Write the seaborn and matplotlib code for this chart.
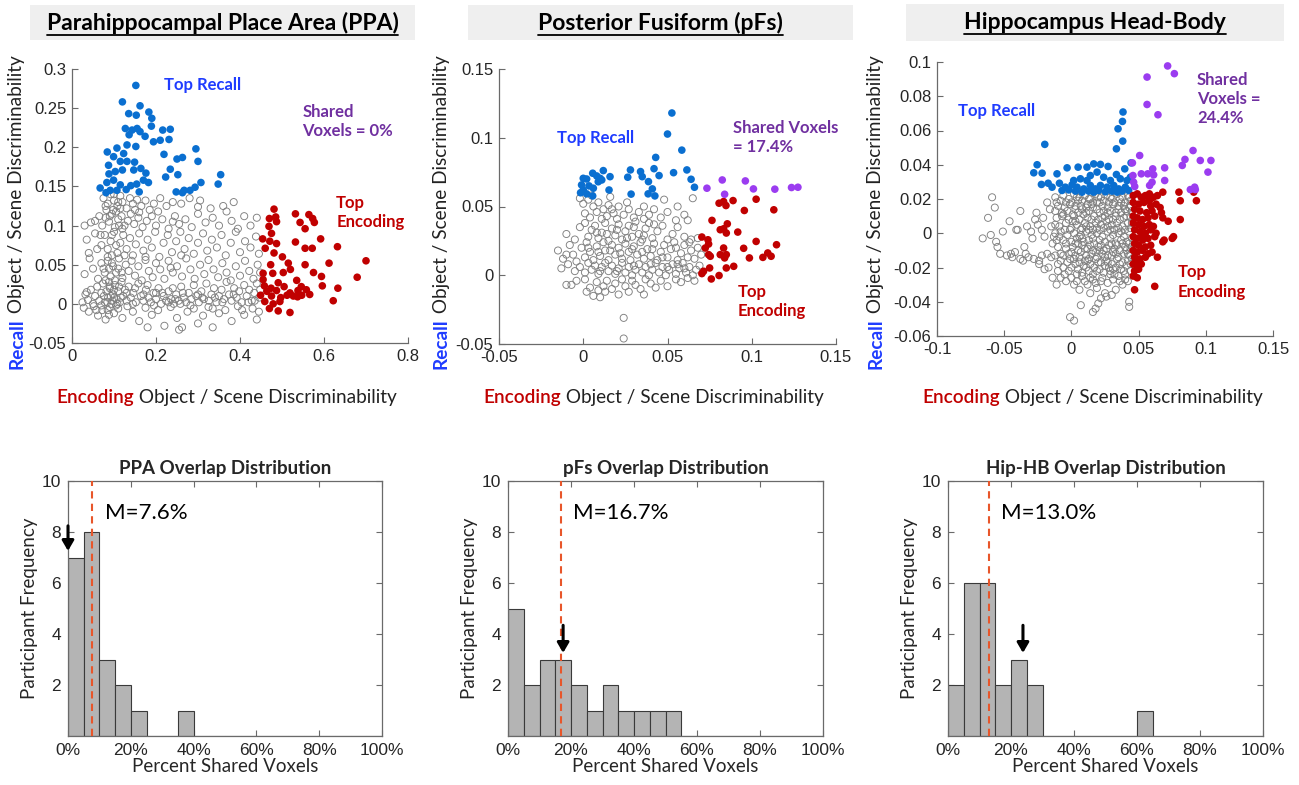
import numpy as np
import pandas as pd
import matplotlib
matplotlib.use("Agg")
import matplotlib.pyplot as plt
import seaborn as sns
from matplotlib.patches import Rectangle, FancyArrowPatch
from matplotlib.lines import Line2D

# ------------------------------------------------------------------ DATA
# Gray voxel points are given in units of 0.001 (milli-units)
MILLI = 0.001

PPA_GRAY = [
    (75,135),(85,128),(92,140),(100,132),(108,125),(115,138),(120,130),(130,122),(138,135),(145,128),
    (155,133),(165,125),(175,132),(185,120),(195,128),(210,135),(225,125),(240,130),(260,128),(280,135),
    (300,124),(305,132),(330,122),(115,122),(98,120),(82,120),(150,120),(205,118),(360,125),(385,130),
    (30,100),(45,104),(55,106),(65,112),(72,100),(80,110),(88,105),(95,115),(102,98),(110,108),
    (118,112),(125,100),(133,106),(140,115),(148,102),(158,110),(168,98),(178,106),(190,112),(200,100),
    (215,108),(230,96),(245,112),(255,102),(270,108),(285,98),(300,115),(318,104),(335,110),(350,100),
    (368,118),(380,106),(395,96),(410,112),(425,100),(440,110),(160,117),(240,105),(120,96),
    (35,82),(40,65),(55,90),(70,75),(78,88),(85,70),(92,80),(100,92),(108,65),(115,78),
    (122,88),(130,70),(138,84),(145,62),(152,76),(160,90),(170,68),(180,82),(190,72),(198,92),
    (208,60),(218,78),(228,88),(238,66),(248,80),(258,92),(268,70),(278,84),(290,64),(300,78),
    (312,90),(322,68),(333,82),(345,72),(356,88),(366,62),(378,78),(390,92),(400,66),(412,80),
    (425,72),(438,86),(445,64),(260,62),(175,60),(95,62),(60,70),
    (30,38),(42,58),(50,45),(62,32),(70,52),(78,40),(85,55),(92,35),(98,48),(105,40),
    (112,58),(120,33),(128,50),(135,42),(142,55),(150,36),(158,48),(166,30),(175,56),(183,42),
    (192,34),(200,52),(210,44),(220,32),(230,55),(240,40),(250,48),(262,35),(272,58),(282,44),
    (292,32),(305,50),(315,38),(325,56),(337,44),(348,34),(358,52),(368,40),(378,30),(390,48),
    (400,36),(412,55),(422,42),(432,32),(442,50),(448,40),(88,45),(102,30),(235,46),
    (25,2),(32,12),(38,5),(45,18),(50,0),(55,10),(60,22),(65,4),(70,14),(74,26),
    (78,2),(82,16),(86,8),(90,20),(94,0),(98,12),(102,24),(106,6),(110,16),(114,2),
    (118,28),(122,10),(126,18),(130,4),(135,22),(140,8),(146,14),(152,2),(158,26),(164,10),
    (170,4),(176,18),(182,8),(188,2),(194,14),(200,6),(206,20),(212,0),(218,10),(224,4),
    (230,16),(236,6),(242,0),(248,12),(254,4),(260,22),(266,8),(272,2),(278,14),(284,6),
    (290,24),(296,10),(302,2),(308,16),(314,6),(320,26),(326,4),(332,12),(338,20),(344,2),
    (350,10),(356,18),(362,6),(368,28),(374,12),(380,4),(386,20),(392,8),(398,16),(404,2),
    (410,24),(416,10),(422,18),(428,4),(434,14),(440,26),(446,8),(96,4),(84,2),(76,10),
    (108,0),(116,8),(100,18),(92,10),(88,28),(112,22),(230,2),(246,6),(264,14),(300,12),
    (340,8),(420,2),(200,14),(180,24),(150,20),(130,14),
    (28,-5),(40,-10),(52,-3),(62,-15),(72,-8),(80,-20),(90,-4),(100,-12),(110,-6),(120,-18),
    (132,-3),(145,-10),(160,-22),(175,-5),(190,-14),(205,-8),(220,-28),(235,-4),(250,-18),(262,-30),
    (275,-10),(290,-6),(300,-25),(312,-15),(325,-4),(335,-30),(350,-12),(365,-8),(380,-22),(395,-3),
    (410,-14),(430,-6),(445,-10),(88,-14),(70,-2),(180,-30),(255,-33),(440,-20),
    (80,125),(90,112),(105,118),(112,100),(95,88),(105,75),(85,60),(95,52),(110,45),(80,30),
    (90,22),(100,8),(85,-8),(105,-2),(118,40),(125,62),(68,88),(75,45),(100,140),(110,130),
    (35,15),(58,-8),(145,0),(170,12),(195,-2),(215,14),(240,20),(258,0),(282,-2),(310,8),
    (335,-6),(358,2),(385,12),(405,-8),(435,4),(448,18),
]

PPA_BLUE = [
    (0.152,0.279),(0.120,0.258),(0.162,0.253),(0.183,0.245),(0.135,0.243),(0.153,0.241),(0.190,0.237),
    (0.127,0.224),(0.143,0.222),(0.155,0.224),(0.162,0.220),(0.189,0.227),(0.136,0.216),(0.174,0.214),
    (0.216,0.222),(0.234,0.223),(0.194,0.207),(0.210,0.209),(0.231,0.210),(0.131,0.203),(0.152,0.201),
    (0.107,0.199),(0.219,0.191),(0.295,0.198),(0.084,0.194),(0.099,0.188),(0.123,0.192),(0.115,0.182),
    (0.131,0.182),(0.149,0.181),(0.250,0.185),(0.263,0.187),(0.300,0.182),(0.087,0.177),(0.103,0.169),
    (0.120,0.171),(0.147,0.171),(0.164,0.173),(0.234,0.172),(0.176,0.167),(0.223,0.162),(0.252,0.165),
    (0.354,0.165),(0.088,0.166),(0.067,0.148),(0.083,0.155),(0.099,0.158),(0.115,0.152),(0.091,0.145),
    (0.129,0.146),(0.154,0.153),(0.170,0.158),(0.182,0.155),(0.160,0.143),(0.307,0.155),(0.348,0.153),
    (0.248,0.143),(0.267,0.145),(0.281,0.145),(0.293,0.149),(0.263,0.142),(0.081,0.142),(0.107,0.145),
    (0.140,0.151),
]

PPA_RED = [
    (0.481,0.121),(0.532,0.115),(0.470,0.109),(0.485,0.111),(0.564,0.114),(0.573,0.109),(0.543,0.104),
    (0.577,0.104),(0.555,0.096),(0.469,0.099),(0.487,0.105),(0.475,0.090),(0.454,0.083),(0.471,0.080),
    (0.487,0.077),(0.592,0.083),(0.532,0.079),(0.460,0.071),(0.481,0.065),(0.501,0.060),(0.555,0.071),
    (0.572,0.071),(0.632,0.073),(0.700,0.055),(0.612,0.052),(0.473,0.050),(0.515,0.052),(0.555,0.050),
    (0.455,0.039),(0.478,0.039),(0.503,0.040),(0.520,0.044),(0.575,0.040),(0.679,0.034),(0.455,0.031),
    (0.491,0.027),(0.535,0.030),(0.594,0.035),(0.458,0.023),(0.474,0.020),(0.505,0.022),(0.546,0.022),
    (0.596,0.023),(0.633,0.020),(0.464,0.016),(0.487,0.017),(0.519,0.014),(0.538,0.017),(0.558,0.018),
    (0.449,0.011),(0.475,0.010),(0.497,0.008),(0.512,0.011),(0.527,0.010),(0.547,0.011),(0.566,0.012),
    (0.495,0.003),(0.459,0.003),(0.622,0.004),(0.479,0.000),(0.470,-0.006),(0.491,-0.009),(0.519,-0.011),
    (0.537,0.009),
]
PPA_PURPLE = []

PFS_GRAY = [
    (-2,56),(0,52),(3,55),(6,50),(9,53),(12,48),(15,51),(18,45),(21,50),(24,44),(27,48),(30,42),
    (33,46),(36,50),(39,44),(42,48),(46,42),(50,46),(55,40),(60,44),(65,56),(62,40),(1,45),(4,42),
    (8,46),(11,41),(14,43),(17,48),(20,41),(26,53),(36,41),(48,55),(56,50),(5,58),(16,57),
    (-10,30),(-5,26),(-2,35),(1,38),(3,28),(5,33),(7,36),(9,27),(11,31),(13,38),(15,25),(17,34),
    (19,29),(21,37),(23,26),(25,32),(27,36),(29,28),(31,39),(33,30),(35,26),(37,34),(39,38),(41,27),
    (44,32),(47,36),(50,26),(53,30),(56,35),(60,28),(64,26),(68,27),(8,31),(14,30),(20,33),(26,27),
    (30,35),(36,29),(42,37),
    (-15,18),(-12,12),(-8,22),(-6,15),(-4,10),(-1,20),(1,13),(2,24),(4,17),(6,11),(8,21),(10,14),
    (12,24),(13,18),(15,11),(17,22),(19,15),(21,20),(23,12),(25,23),(27,17),(28,11),(30,21),(32,15),
    (34,24),(36,12),(38,19),(40,14),(42,23),(44,11),(46,17),(48,22),(50,13),(52,19),(54,24),(56,11),
    (58,16),(60,22),(62,13),(64,18),(66,12),(68,20),(70,15),(3,20),(9,17),(16,18),(22,16),(29,19),
    (35,17),(41,19),(47,13),(55,20),(63,24),(-10,15),
    (-13,5),(-9,8),(-5,3),(-2,6),(1,2),(3,9),(5,4),(7,7),(9,1),(11,6),(13,9),(15,3),(17,7),(19,1),
    (21,5),(23,9),(25,2),(27,6),(29,0),(31,4),(33,8),(35,2),(37,6),(39,0),(41,4),(43,9),(45,2),(47,6),
    (49,0),(51,4),(53,8),(55,1),(57,5),(59,9),(61,2),(63,6),(65,0),(67,4),(69,7),(10,3),(20,3),(30,7),
    (40,8),(50,6),(60,5),(56,8),
    (-10,-7),(-7,-7),(-4,-4),(1,-3),(2,-12),(4,-9),(6,-15),(8,-5),(9,-11),(10,-16),(12,-8),(14,-4),
    (17,-10),(19,-6),(21,-14),(23,-3),(25,-8),(27,-12),(29,-4),(31,-7),(34,-10),(37,-3),(40,-6),(43,-9),
    (46,-4),(50,-8),(55,-3),(58,-5),(62,-2),(66,-4),(24,-31),(24,-46),(13,-12),(36,-14),
]

PFS_BLUE = [
    (0.0526,0.118),(0.050,0.1027),(0.0585,0.091),(0.043,0.0857),(0.042,0.0775),(0.028,0.0766),
    (0.034,0.0754),(0.045,0.0725),(0.0536,0.0746),(0.0615,0.0766),(0.064,0.0698),(0.066,0.064),
    (0.0387,0.0681),(0.035,0.0717),(0.0264,0.0713),(0.0284,0.059),(0.0385,0.0592),(0.041,0.0628),
    (0.0425,0.0577),(0.0119,0.0761),(0.0159,0.0717),(0.0153,0.062),(0.0056,0.0742),(0.010,0.0705),
    (0.008,0.0722),(0.002,0.070),(0.000,0.0705),(0.0034,0.065),(0.006,0.0633),(-0.001,0.0657),
    (0.000,0.062),(0.002,0.0592),(0.0056,0.0577),(-0.0016,0.060),(0.0089,0.068),(0.011,0.0693),
]
PFS_PURPLE = [
    (0.0734,0.0633),(0.0825,0.0693),(0.0839,0.0589),(0.0962,0.0686),(0.101,0.0628),
    (0.1137,0.0626),(0.1236,0.0638),(0.1274,0.064),
]
PFS_RED = [
    (0.0806,0.0524),(0.0833,0.0536),(0.0847,0.0507),(0.0889,0.0543),(0.0956,0.0471),(0.1026,0.0553),
    (0.1131,0.0476),(0.0764,0.0399),(0.0813,0.0331),(0.0833,0.0338),(0.0855,0.0374),(0.0849,0.0307),
    (0.0917,0.0314),(0.0704,0.0278),(0.0740,0.0258),(0.0744,0.0227),(0.0724,0.0198),(0.1026,0.0246),
    (0.1147,0.0222),(0.0833,0.0198),(0.0952,0.0196),(0.0813,0.0150),(0.0744,0.0150),(0.0754,0.0138),
    (0.0839,0.0126),(0.0849,0.0150),(0.0986,0.0126),(0.1066,0.0130),(0.1095,0.0162),(0.1115,0.0138),
    (0.0750,0.0053),(0.0849,0.0053),(0.0893,0.0065),(0.0714,0.0029),(0.0704,0.0012),(0.0806,-0.0002),
    (0.0760,-0.0027),
]

HIP_GRAY = [
    (-12,21),(-6,22),(-2,20),(2,23),(6,21),(10,22),(14,20),(18,23),(22,21),(26,22),(30,20),(34,23),
    (38,21),(42,22),(44,19),(0,18),(8,19),(16,18),(24,19),(32,18),(40,18),
    (-10,16),(-5,15),(-1,17),(3,14),(7,16),(11,15),(15,17),(19,14),(23,16),(27,15),(31,17),(35,14),
    (39,16),(43,15),(-3,13),(5,12),(13,13),(21,12),(29,13),(37,12),(45,13),(1,11),
    (-11,9),(-7,10),(-2,8),(2,10),(6,8),(9,11),(12,9),(17,10),(20,8),(25,10),(28,8),(33,10),(36,8),
    (41,10),(44,9),(-4,6),(4,5),(10,6),(14,4),(18,6),(22,5),(26,7),(30,5),(34,6),(38,4),(42,6),(0,3),
    (8,3),(16,2),(24,3),(32,2),(40,2),
    (-12,0),(-8,1),(-3,-1),(2,0),(6,-2),(11,1),(15,-1),(19,0),(23,-2),(27,1),(31,-1),(35,0),(39,-2),
    (43,1),(-6,-4),(0,-5),(4,-3),(9,-5),(13,-4),(17,-6),(21,-4),(25,-5),(29,-3),(33,-6),(37,-4),
    (41,-5),(45,-3),
    (-10,-8),(-4,-9),(1,-8),(5,-10),(8,-7),(12,-9),(16,-10),(20,-8),(24,-10),(28,-7),(32,-9),(36,-10),
    (40,-8),(44,-9),(-2,-12),(3,-13),(7,-11),(11,-13),(15,-12),(19,-14),(23,-12),(27,-13),(31,-11),
    (35,-14),(39,-12),(43,-13),
    (-8,-16),(-3,-17),(2,-15),(6,-17),(10,-16),(14,-18),(18,-15),(22,-17),(26,-16),(30,-18),(34,-15),
    (38,-17),(42,-16),(0,-20),(5,-21),(9,-19),(13,-22),(17,-20),(21,-21),(25,-19),(29,-22),(33,-20),
    (37,-21),(41,-19),(44,-22),
    (-5,-24),(0,-26),(4,-28),(8,-25),(12,-30),(16,-27),(19,-32),(23,-26),(27,-29),(31,-27),(35,-25),
    (38,-30),(42,-28),(-10,-22),(-14,-26),(-11,-30),(6,-33),(25,-35),(33,-33),(30,-36),(14,-35),
    (7,-42),(22,-38),(20,-41),(18,-44),(16,-46),(43,-40),(43,-43),(-1,-49),(2,-51),(26,-37),
    (-66,-3),(-57,15),(-59,21),(-62,9),(-56,-5),(-55,-8),(-53,-12),(-51,1),(-46,7),(-45,-12),(-42,-11),
    (-41,2),(-40,2),(-38,13),(-38,-15),(-36,-16),(-34,-12),(-32,-14),(-30,1),(-29,-3),(-27,8),(-25,5),
    (-24,-16),(-22,-13),(-21,9),(-22,2),(-20,-2),(-18,-12),(-17,-20),(-15,-14),(-24,-18),(-16,14),
    (-15,4),(-14,-6),(-18,18),(-13,-2),(-28,-15),(-20,-21),(-26,12),(-35,-8),(-48,-13),(-60,-1),
    (-44,-14),(-33,4),
    (-8,19),(4,21),(12,17),(20,21),(28,18),(36,20),(44,16),(-7,12),(3,16),(11,12),(19,18),(27,12),
    (35,16),(41,13),(-9,4),(1,7),(7,2),(15,8),(23,9),(31,8),(39,9),(45,6),(-9,-2),(-1,2),(7,-1),
    (13,2),(21,2),(29,2),(37,1),(43,-6),(-8,-12),(-1,-15),(5,-6),(10,-9),(14,-7),(18,-11),(26,-9),
    (30,-13),(34,-7),(42,-12),(-6,-20),(3,-18),(8,-23),(12,-16),(16,-24),(20,-17),(24,-23),(28,-20),
    (32,-24),(36,-18),(40,-24),(44,-18),(-4,-28),(10,-28),(22,-28),(36,-28),
    (-11,18),(-4,18),(5,19),(13,20),(21,18),(29,21),(37,18),(43,21),(-12,13),(-6,11),(8,14),(16,15),
    (24,13),(33,12),(40,14),(-12,5),(-5,2),(3,7),(11,4),(19,3),(27,4),(35,3),(44,3),(-11,-4),(-4,-6),
    (3,-6),(8,-3),(16,-3),(22,-7),(30,-6),(38,-6),(45,-8),(-12,-13),(-6,-13),(0,-11),(6,-14),(13,-15),
    (21,-10),(25,-14),(33,-12),(41,-10),(-10,-18),(-2,-22),(4,-24),(11,-20),(19,-22),(27,-17),
    (31,-21),(39,-22),(45,-15),(-8,-26),(2,-30),(14,-26),(29,-24),(40,-27),(18,-29),
]

HIP_BLUE = [
    (-0.0198,0.0519),(0.0384,0.0708),(0.0380,0.0653),(0.0347,0.0610),(0.0382,0.0538),(0.0335,0.0493),
    (-0.0255,0.0400),(-0.0280,0.0353),(-0.0218,0.0351),(-0.0223,0.0285),(-0.0107,0.0347),(-0.0032,0.0382),
    (0.0050,0.0386),(0.0116,0.0386),(0.0166,0.0405),(0.0216,0.0402),(0.0273,0.0390),(0.0444,0.0411),
    (0.0397,0.0376),(0.0335,0.0343),(-0.0173,0.0292),(-0.0144,0.0269),(-0.0089,0.0292),(-0.0045,0.0269),
    (0.0017,0.0308),(0.0067,0.0318),(0.0141,0.0337),(0.0191,0.0357),(0.0240,0.0327),(0.0290,0.0308),
    (0.0364,0.0318),(0.0414,0.0308),(0.0439,0.0327),(0.0042,0.0269),(0.0092,0.0259),(0.0141,0.0279),
    (0.0178,0.0259),(0.0216,0.0279),(0.0265,0.0269),(0.0315,0.0279),(0.0352,0.0259),(0.0401,0.0269),
    (-0.0070,0.0250),(-0.0020,0.0253),(0.0030,0.0246),(0.0079,0.0240),(0.0129,0.0246),(0.0166,0.0240),
    (0.0203,0.0250),(0.0253,0.0242),(0.0302,0.0246),(0.0340,0.0240),(0.0377,0.0246),(0.0426,0.0250),
    (0.0005,0.0283),(0.0116,0.0308),
]
HIP_PURPLE = [
    (0.0716,0.0977),(0.0766,0.0932),(0.0563,0.0912),(0.0563,0.0752),(0.0644,0.0692),(0.0508,0.0454),
    (0.0905,0.0483),(0.0845,0.0431),(0.0959,0.0425),(0.1038,0.0425),(0.1016,0.0357),(0.0825,0.0396),
    (0.0694,0.0382),(0.0605,0.0376),(0.0454,0.0411),(0.0458,0.0337),(0.0520,0.0347),(0.0568,0.0347),
    (0.0612,0.0341),(0.0694,0.0308),(0.0600,0.0298),(0.0463,0.0298),(0.0885,0.0255),(0.0917,0.0269),
    (0.0922,0.0255),(0.0582,0.0279),(0.0471,0.0273),
]
HIP_RED = [
    (0.046,0.022),(0.049,0.023),(0.052,0.021),(0.055,0.022),(0.058,0.023),(0.061,0.021),(0.064,0.022),
    (0.068,0.024),(0.080,0.024),(0.091,0.024),(0.093,0.019),(0.081,0.019),(0.046,0.018),(0.050,0.017),
    (0.054,0.018),(0.059,0.016),(0.063,0.017),(0.047,0.014),(0.051,0.013),(0.056,0.012),(0.060,0.013),
    (0.046,0.010),(0.049,0.009),(0.053,0.008),(0.057,0.009),(0.062,0.010),(0.067,0.012),(0.068,0.009),
    (0.072,0.007),(0.081,0.008),(0.046,0.006),(0.050,0.005),(0.054,0.004),(0.058,0.005),(0.061,0.004),
    (0.047,0.002),(0.051,0.001),(0.055,0.000),(0.059,0.002),(0.063,0.000),(0.046,-0.002),(0.049,-0.003),
    (0.053,-0.004),(0.057,-0.003),(0.062,-0.002),(0.069,-0.004),(0.068,-0.005),(0.076,-0.002),
    (0.075,-0.003),(0.047,-0.006),(0.050,-0.007),(0.055,-0.008),(0.059,-0.007),(0.046,-0.010),
    (0.049,-0.011),(0.053,-0.010),(0.057,-0.012),(0.060,-0.011),(0.047,-0.014),(0.051,-0.015),
    (0.055,-0.014),(0.064,-0.014),(0.046,-0.018),(0.049,-0.019),(0.052,-0.018),(0.047,-0.022),
    (0.050,-0.021),(0.046,-0.025),(0.049,-0.026),(0.047,-0.033),(0.062,-0.031),(0.048,-0.016),
    (0.053,-0.001),(0.058,0.019),(0.066,0.015),
]

# Histograms (5% bins)
BIN_EDGES = [0, 5, 10, 15, 20, 25, 30, 35, 40, 45, 50, 55, 60, 65, 70, 75, 80, 85, 90, 95, 100]
PPA_COUNTS = [7, 8, 3, 2, 1, 0, 0, 1, 0, 0, 0, 0, 0, 0, 0, 0, 0, 0, 0, 0]
PFS_COUNTS = [5, 2, 3, 3, 2, 1, 2, 1, 1, 1, 1, 0, 0, 0, 0, 0, 0, 0, 0, 0]
HIP_COUNTS = [2, 6, 6, 2, 3, 2, 0, 0, 0, 0, 0, 0, 1, 0, 0, 0, 0, 0, 0, 0]
MEANS = [7.6, 16.7, 13.0]
ARROW_X = [0.0, 17.5, 23.8]

TITLES = ["Parahippocampal Place Area (PPA)", "Posterior Fusiform (pFs)", "Hippocampus Head-Body"]
HIST_TITLES = ["PPA Overlap Distribution", "pFs Overlap Distribution", "Hip-HB Overlap Distribution"]
SHARED_LABELS = ["Shared\nVoxels = 0%", "Shared Voxels\n= 17.4%", "Shared\nVoxels =\n24.4%"]

PPA_XTICKS = [0, 0.2, 0.4, 0.6, 0.8]
PPA_YTICKS = [-0.05, 0, 0.05, 0.1, 0.15, 0.2, 0.25, 0.3]
PFS_XTICKS = [-0.05, 0, 0.05, 0.1, 0.15]
PFS_YTICKS = [-0.05, 0, 0.05, 0.1, 0.15]
HIP_XTICKS = [-0.1, -0.05, 0, 0.05, 0.1, 0.15]
HIP_YTICKS = [-0.06, -0.04, -0.02, 0, 0.02, 0.04, 0.06, 0.08, 0.1]
HIST_XTICKS = [0, 20, 40, 60, 80, 100]
HIST_YTICKS = [2, 4, 6, 8, 10]

# ------------------------------------------------------------------ STYLE
sns.set_theme(style="white")
plt.rcParams["font.family"] = ["Liberation Sans", "DejaVu Sans"]
plt.rcParams["axes.unicode_minus"] = False
LABEL_FONT = ["Lato", "DejaVu Sans"]

W, H = 1299, 785
fig = plt.figure(figsize=(W / 100, H / 100), dpi=100)
fig.patch.set_facecolor("white")

BLUE_DOT = "#0a6fd0"
BLUE_TXT = "#1f3cff"
RED = "#c00000"
PURPLE_DOT = "#9b3cf0"
PURPLE_TXT = "#7030a0"
GRAY_EDGE = "#7f7f7f"
AX_COL = "#6a6a6a"


def px_axes(l, t, r, b):
    return fig.add_axes([l / W, 1 - b / H, (r - l) / W, (b - t) / H])


def fmt(v):
    return f"{v:g}"


def to_df(pts, scale=1.0):
    arr = np.array(pts, dtype=float) * scale if len(pts) else np.zeros((0, 2))
    return pd.DataFrame({"x": arr[:, 0], "y": arr[:, 1]})


def scatter_panel(ax, gray, blue, red, purple, xticks, yticks):
    g = to_df(gray, MILLI)
    sns.scatterplot(data=g, x="x", y="y", ax=ax, s=26, marker="o",
                    edgecolor=GRAY_EDGE, linewidth=0.65, legend=False, zorder=2)
    ax.collections[-1].set_facecolor("none")
    ax.collections[-1].set_edgecolor(GRAY_EDGE)
    for pts, col in [(blue, BLUE_DOT), (red, RED), (purple, PURPLE_DOT)]:
        if len(pts):
            d = to_df(pts)
            sns.scatterplot(data=d, x="x", y="y", ax=ax, s=30, color=col,
                            linewidth=0, edgecolor="none", legend=False, zorder=3)
    ax.set_xlim(xticks[0], xticks[-1])
    ax.set_ylim(yticks[0], yticks[-1])
    ax.set_xticks(xticks)
    ax.set_yticks(yticks)
    ax.set_xticklabels([fmt(v) for v in xticks])
    ax.set_yticklabels([fmt(v) for v in yticks])
    ax.set_xlabel("")
    ax.set_ylabel("")
    for s in ["top", "right"]:
        ax.spines[s].set_visible(False)
    for s in ["left", "bottom"]:
        ax.spines[s].set_color(AX_COL)
        ax.spines[s].set_linewidth(0.9)
    ax.tick_params(direction="in", length=4, width=0.8, color=AX_COL,
                   labelsize=12, labelcolor="#262626", pad=4,
                   left=True, bottom=True)
    ax.set_facecolor("white")


def hist_panel(ax, counts, mean, arrow_x, title):
    centers = [(BIN_EDGES[i] + BIN_EDGES[i + 1]) / 2 for i in range(len(counts))]
    d = pd.DataFrame({"pct": centers, "n": counts})
    sns.histplot(data=d, x="pct", weights="n", bins=BIN_EDGES, ax=ax,
                 color="#b4b4b4", edgecolor="#3a3a3a", linewidth=0.8, alpha=1.0)
    ax.set_xlim(0, 100)
    ax.set_ylim(0, 10)
    ax.set_xticks(HIST_XTICKS)
    ax.set_xticklabels([f"{v}%" for v in HIST_XTICKS])
    ax.set_yticks(HIST_YTICKS)
    ax.set_yticklabels([str(v) for v in HIST_YTICKS])
    ax.axvline(mean, color="#e8562a", linestyle=(0, (3.5, 2.5)), linewidth=1.5, zorder=4)
    ax.text(mean + 4.3 if mean < 10 else mean + 3.9, 8.75, f"M={mean:.1f}%", fontsize=16,
            family=LABEL_FONT, va="center", ha="left", color="black")
    ax.add_patch(FancyArrowPatch((arrow_x, 4.45 if arrow_x > 0 else 8.35),
                                 (arrow_x, 3.15 if arrow_x > 0 else 7.15),
                                 arrowstyle="-|>,head_length=6,head_width=3.5",
                                 mutation_scale=1, color="black", linewidth=2.2,
                                 zorder=6, clip_on=False))
    for s in ax.spines.values():
        s.set_visible(True)
        s.set_color(AX_COL)
        s.set_linewidth(0.9)
    ax.tick_params(direction="in", length=4, width=0.8, color=AX_COL,
                   labelsize=12.5, labelcolor="#262626", top=True, right=True,
                   left=True, bottom=True, labeltop=False, labelright=False, pad=5)
    ax.set_xlabel("Percent Shared Voxels", fontsize=13.5, family=LABEL_FONT, labelpad=0)
    ax.set_ylabel("Participant Frequency", fontsize=13.5, family=LABEL_FONT, labelpad=3)
    ax.set_title(title, fontsize=13.5, fontweight="bold", family=LABEL_FONT, pad=5)
    ax.set_facecolor("white")


# ------------------------------------------------------------------ AXES
sc_boxes = [(72, 69, 408, 343), (499, 69, 836, 344), (937, 62, 1273, 336)]
hi_boxes = [(68, 481, 382, 736), (508, 481, 823, 736), (948, 481, 1263, 736)]
title_boxes = [(30, 5, 415, 40), (468, 5, 853, 40), (906, 4, 1284, 41)]

sc_data = [
    (PPA_GRAY, PPA_BLUE, PPA_RED, PPA_PURPLE, PPA_XTICKS, PPA_YTICKS),
    (PFS_GRAY, PFS_BLUE, PFS_RED, PFS_PURPLE, PFS_XTICKS, PFS_YTICKS),
    (HIP_GRAY, HIP_BLUE, HIP_RED, HIP_PURPLE, HIP_XTICKS, HIP_YTICKS),
]
recall_pos = [(0.312, 0.279), (0.0075, 0.0995), (-0.056, 0.0714)]
shared_pos = [(0.548, 0.233), (0.0888, 0.100), (0.0935, 0.0784)]
enc_pos = [(0.629, 0.117), (0.0917, -0.019), (0.0794, -0.0284)]

for i, box in enumerate(sc_boxes):
    ax = px_axes(*box)
    scatter_panel(ax, *sc_data[i])
    tk = dict(fontsize=12, fontweight="bold", family=LABEL_FONT, zorder=7)
    ax.text(*recall_pos[i], "Top Recall", color=BLUE_TXT, ha="center", va="center", **tk)
    ax.text(*shared_pos[i], SHARED_LABELS[i], color=PURPLE_TXT, ha="left", va="center",
            linespacing=1.25, **tk)
    ax.text(*enc_pos[i], "Top\nEncoding", color=RED, ha="left", va="center",
            linespacing=1.25, **tk)

for i, box in enumerate(hi_boxes):
    ax = px_axes(*box)
    hist_panel(ax, [PPA_COUNTS, PFS_COUNTS, HIP_COUNTS][i], MEANS[i], ARROW_X[i], HIST_TITLES[i])

# ------------------------------------------------------------------ TITLES
renderer = fig.canvas.get_renderer()
for (l, t, r, b), ttl in zip(title_boxes, TITLES):
    fig.patches.append(Rectangle((l / W, 1 - b / H), (r - l) / W, (b - t) / H,
                                 transform=fig.transFigure, facecolor="#efefef",
                                 edgecolor="none", zorder=0))
    cx, cy = (l + r) / 2, (t + b) / 2
    txt = fig.text(cx / W, 1 - cy / H, ttl, ha="center", va="center", fontsize=16.5,
                   fontweight="bold", family=LABEL_FONT, color="black")
    bb = txt.get_window_extent(renderer)
    yline = bb.y0 - 1
    fig.add_artist(Line2D([bb.x0 / W, bb.x1 / W], [yline / H, yline / H],
                          transform=fig.transFigure, color="black", linewidth=1.3))


# ------------------------------------------------------------------ 2-colour axis labels
def multi_label(cx, cy, parts, rotation=0, fontsize=13.7):
    ts = []
    for s, c, w in parts:
        ts.append(fig.text(0, 0, s, color=c, fontweight=w, fontsize=fontsize,
                           family=LABEL_FONT, rotation=rotation,
                           ha="left" if rotation == 0 else "center",
                           va="center" if rotation == 0 else "bottom"))
    sizes = []
    for t in ts:
        bb = t.get_window_extent(renderer)
        sizes.append(bb.width if rotation == 0 else bb.height)
    total = sum(sizes)
    if rotation == 0:
        x = cx - total / 2
        for t, s in zip(ts, sizes):
            t.set_position((x / W, 1 - cy / H))
            x += s
    else:
        ybot = (H - cy) - total / 2
        for t, s in zip(ts, sizes):
            t.set_position((cx / W, ybot / H))
            ybot += s


xl_centers = [227, 654, 1093]
yl_x = [17, 441, 876]
for i in range(3):
    multi_label(xl_centers[i], 398, [("Encoding", RED, "semibold"),
                                     (" Object / Scene Discriminability", "#222222", "normal")])
    multi_label(yl_x[i], 212, [("Recall", BLUE_TXT, "bold"),
                               (" Object / Scene Discriminability", "#222222", "normal")],
                rotation=90)

fig.savefig("out.png", dpi=100, facecolor="white")
